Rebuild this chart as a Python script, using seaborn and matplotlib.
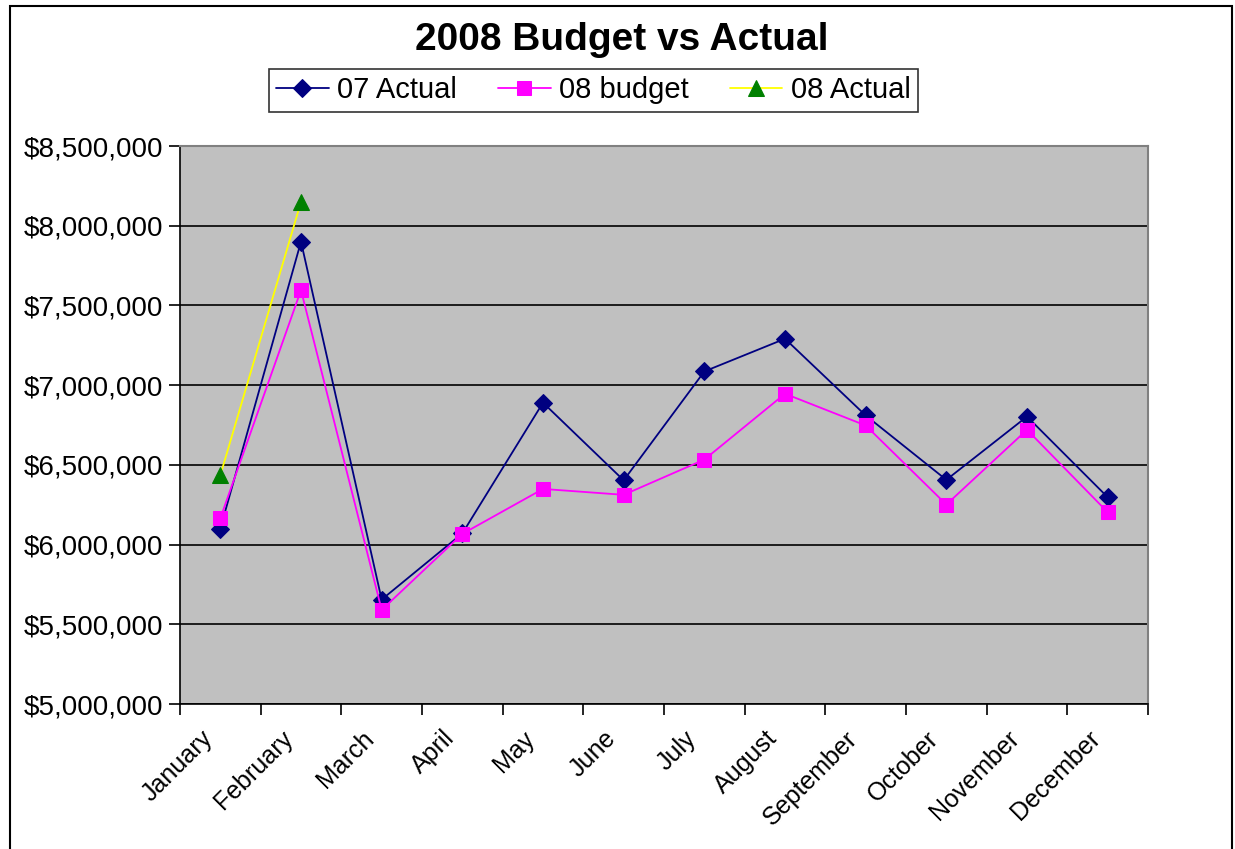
import pandas as pd
import matplotlib
matplotlib.use('Agg')
import matplotlib.pyplot as plt
from matplotlib.patches import Rectangle
from matplotlib.ticker import FuncFormatter, FixedLocator
import seaborn as sns

months = ['January', 'February', 'March', 'April', 'May', 'June', 'July',
          'August', 'September', 'October', 'November', 'December']
actual_07 = [6100000, 7900000, 5655000, 6070000, 6890000, 6403000, 7086000,
             7291000, 6810000, 6406000, 6803000, 6297000]
budget_08 = [6165000, 7596000, 5590000, 6067000, 6349000, 6312000, 6533000,
             6946000, 6747000, 6251000, 6720000, 6203000]
actual_08 = [6435000, 8150000]

df = pd.DataFrame({'x': range(len(months)), 'month': months,
                   '07 Actual': actual_07, '08 budget': budget_08})
df8 = pd.DataFrame({'x': range(len(actual_08)), '08 Actual': actual_08})

sns.set_style('white')
plt.rcParams['font.family'] = ['Liberation Sans', 'DejaVu Sans']
plt.rcParams['text.color'] = 'black'
plt.rcParams['xtick.color'] = 'black'
plt.rcParams['ytick.color'] = 'black'

fig = plt.figure(figsize=(12.35, 8.49), dpi=100)
ax = fig.add_axes([180 / 1235, 1 - 704 / 849, (1148 - 180) / 1235, (704 - 146) / 849])
ax.set_facecolor('#C0C0C0')

sns.lineplot(data=df, x='x', y='07 Actual', ax=ax, color='#000080', marker='D',
             markersize=9, markeredgecolor='#000080', linewidth=1.3, label='07 Actual')
sns.lineplot(data=df, x='x', y='08 budget', ax=ax, color='#FF00FF', marker='s',
             markersize=10, markeredgecolor='#FF00FF', linewidth=1.3, label='08 budget')
sns.lineplot(data=df8, x='x', y='08 Actual', ax=ax, color='#FFFF00', marker='^',
             markersize=11, markerfacecolor='#008000', markeredgecolor='#008000',
             linewidth=1.3, label='08 Actual')

ax.set_xlim(-0.5, len(months) - 0.5)
ax.set_ylim(5000000, 8500000)
ax.set_yticks(range(5000000, 8500001, 500000))
ax.yaxis.set_major_formatter(FuncFormatter(lambda v, p: '${:,.0f}'.format(v)))
ax.yaxis.grid(True, color='black', linewidth=1.2)
ax.set_axisbelow(True)

# labels sit a bit left of the category centre, like the Excel original
ax.set_xticks([i - 0.25 for i in range(len(months))])
ax.set_xticklabels(months, rotation=45, ha='right', rotation_mode='anchor')
ax.xaxis.set_minor_locator(FixedLocator([i - 0.5 for i in range(len(months) + 1)]))
ax.tick_params(axis='x', which='major', length=0, pad=16, labelsize=18)
ax.tick_params(axis='x', which='minor', length=8, width=1.2, color='black', direction='out')
ax.tick_params(axis='y', length=8, width=1.2, color='black', direction='out', labelsize=20, pad=4)
ax.tick_params(bottom=True, left=True, which='both')

ax.set_xlabel('')
ax.set_ylabel('')
for s in ['left', 'bottom']:
    ax.spines[s].set_color('black')
    ax.spines[s].set_linewidth(1.2)
for s in ['top', 'right']:
    ax.spines[s].set_color('#808080')
    ax.spines[s].set_linewidth(1.5)

ax.get_legend().remove()
handles, labels = ax.get_legend_handles_labels()
leg = fig.legend(handles, labels, loc='center', bbox_to_anchor=(593.5 / 1235, 1 - 90.5 / 849),
                 ncol=3, fontsize=21, frameon=True, fancybox=False, edgecolor='black',
                 handlelength=1.8, handletextpad=0.3, columnspacing=1.4, borderpad=0.25)
leg.get_frame().set_linewidth(1.2)

fig.text(621.5 / 1235, 1 - 40 / 849, '2008 Budget vs Actual', ha='center', va='center',
         fontsize=28, fontweight='bold')

fig.patches.append(Rectangle((10 / 1235, -0.05), (1232 - 10) / 1235, 1.05 - 6 / 849,
                             transform=fig.transFigure, fill=False, edgecolor='black',
                             linewidth=1.5))

fig.savefig('out.png', dpi=100, facecolor='white')
